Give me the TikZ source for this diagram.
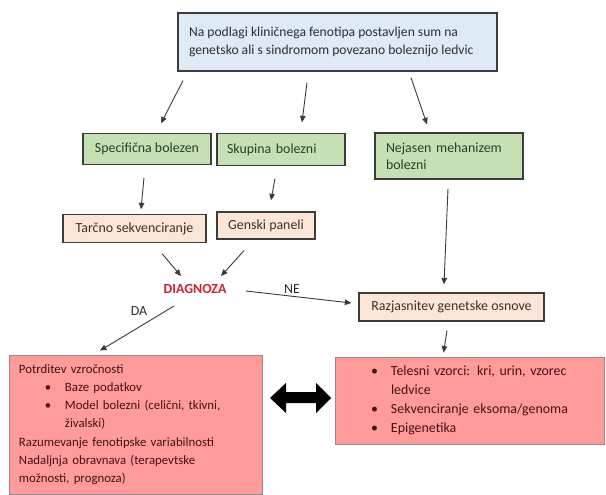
\documentclass[tikz,border=0pt]{standalone}
\usepackage{fontspec}
\setmainfont{Carlito}
\usetikzlibrary{arrows.meta,calc}

\definecolor{topfill}{HTML}{DEEBF7}
\definecolor{greenfill}{HTML}{C5E0B4}
\definecolor{peachfill}{HTML}{FBE5D6}
\definecolor{redfill}{HTML}{FF9B9B}
\definecolor{edge}{HTML}{3C3C3C}
\definecolor{rededge}{HTML}{8C8C8C}
\definecolor{txt}{HTML}{2E2E2E}
\definecolor{greentxt}{HTML}{2F3D27}
\definecolor{peachtxt}{HTML}{3F3028}
\definecolor{redtxt}{HTML}{461212}
\definecolor{diagred}{HTML}{D0202F}
\definecolor{arrowgray}{HTML}{3A3A3A}

% bullet rows inside the red boxes
\newcommand\bulletrow[1]{\hspace*{26pt}\makebox[20pt][l]{\textbullet}#1}
\newcommand\controw[1]{\hspace*{46pt}#1}

\tikzset{
  basefont/.style={font=\fontsize{13.9}{18}\selectfont},
  box/.style={draw=edge, line width=1.3pt, rectangle, inner sep=0pt, basefont},
  topbox/.style={box, fill=topfill, text=txt},
  greenbox/.style={box, fill=greenfill, text=greentxt},
  peachbox/.style={box, fill=peachfill, text=peachtxt},
  redbox/.style={draw=rededge, line width=0.8pt, fill=redfill, text=redtxt,
    rectangle, inner xsep=10pt, inner ysep=0pt, align=left},
  arr/.style={draw=arrowgray, line width=0.9pt,
    -{Triangle[length=6.5pt,width=5.5pt]}},
  lbl/.style={text=txt, basefont, inner sep=0pt},
}

\begin{document}
\begin{tikzpicture}[x=1pt,y=-1pt]
\useasboundingbox (0,0) rectangle (606,495);

% boxes
\node[topbox, minimum width=319pt, minimum height=58pt, font=\fontsize{13.6}{18}\selectfont]
  (top) at (337.5,42) {\raisebox{6pt}{\makebox[297pt][l]{%
  \begin{tabular}{@{}l@{}}
  Na podlagi kliničnega fenotipa postavljen sum na\\
  genetsko ali s sindromom povezano boleznijo ledvic
  \end{tabular}}}};

\node[greenbox, minimum width=128pt, minimum height=31pt] (spec) at (147,149) {Specifična bolezen};
\node[greenbox, minimum width=128pt, minimum height=32pt, text width=108pt, align=left] (skup) at (281,149.5) {Skupina bolezni};
\node[greenbox, minimum width=148pt, minimum height=46pt, text width=126pt, align=left,
  font=\fontsize{13.9}{17}\selectfont] (nej) at (449,156) {Nejasen mehanizem\\bolezni};

\node[peachbox, minimum width=143pt, minimum height=28pt] (tarc) at (134.5,228.5) {Tarčno sekvenciranje};
\node[peachbox, minimum width=98pt, minimum height=27pt] (gen) at (266,225.5) {Genski paneli};

\node[text=diagred, font=\fontsize{13.9}{16}\selectfont\bfseries, inner sep=0pt] (diag) at (195,289) {DIAGNOZA};

\node[peachbox, minimum width=185pt, minimum height=28pt] (raz) at (451.5,307) {Razjasnitev genetske osnove};

\node[redbox, minimum width=253pt, minimum height=139pt, text width=233pt,
  font=\fontsize{12.8}{18.2}\selectfont] (left) at (135.5,424.5) {%
Potrditev vzročnosti\\
\bulletrow{Baze podatkov}\\
\bulletrow{Model bolezni (celični, tkivni,}\\
\controw{živalski)}\\
Razumevanje fenotipske variabilnosti\\
Nadaljnja obravnava (terapevtske\\
možnosti, prognoza)};

\node[redbox, minimum width=269pt, minimum height=87pt, text width=249pt,
  font=\fontsize{13.9}{19}\selectfont] (right) at (469.5,400.5) {%
\bulletrow{Telesni vzorci: kri, urin, vzorec}\\
\controw{ledvice}\\
\bulletrow{Sekvenciranje eksoma/genoma}\\
\bulletrow{Epigenetika}};

% connectors
\draw[arr] ($(top.south)+(-154.5,9)$) -- ($(spec.north)+(14,-9.5)$);
\draw[arr] ($(top.south)+(-30.5,11)$) -- ($(skup.north)+(21,-10.5)$);
\draw[arr] ($(top.south)+(73.5,6)$) -- ($(nej.north)+(-22,-8)$);
\draw[arr] ($(spec.south)+(-3,12.5)$) -- ($(tarc.north)+(6.5,-4.5)$);
\draw[arr] ($(skup.south)+(-6,12.5)$) -- ($(gen.north)+(5,-11)$);
\draw[arr] ($(tarc.south)+(27.5,10.5)$) -- ($(diag)+(-14,-13)$);
\draw[arr] ($(gen.south)+(-22,11)$) -- ($(diag)+(26,-13)$);
\draw[arr] ($(diag)+(51,2)$) -- ($(raz.west)+(-7,-4)$);
\draw[arr] ($(nej.south)+(-1,9)$) -- ($(raz.north)+(-7.5,-8)$);
\draw[arr] ($(diag)+(-21,17)$) -- ($(left.north)+(-35.5,-4)$);
\draw[arr] ($(raz.south)+(-4.5,9)$) -- ($(right.north)+(-26,-4)$);

\node[lbl] (ne) at (292,289) {NE};
\node[lbl] (da) at (139,311) {DA};

% two-headed block arrow between the red boxes
\fill[black] (270,398) -- (286,383) -- (286,392) -- (316,392) -- (316,383)
  -- (331,398) -- (316,413) -- (316,403) -- (286,403) -- (286,413) -- cycle;
\end{tikzpicture}
\end{document}
